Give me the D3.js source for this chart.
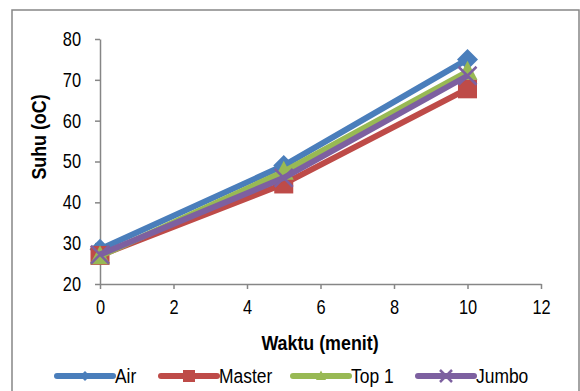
<!DOCTYPE html>
<html><head><meta charset="utf-8">
<script src="https://cdn.jsdelivr.net/npm/d3@7"></script>
<style>
html,body{margin:0;padding:0;background:#fff;}
svg text{font-family:"Liberation Sans",Arial,sans-serif;}
</style></head>
<body><svg id="c" width="580" height="391"></svg>
<script>
const times = [0, 5, 10];
const seriesNames = ["Air", "Master", "Top 1", "Jumbo"];
const airValues = [28.5, 49, 75];
const masterValues = [27, 44.5, 67.8];
const top1Values = [26.8, 47.5, 72];
const jumboValues = [27.2, 46, 71];
const xTicks = [0, 2, 4, 6, 8, 10, 12];
const yTicks = [20, 30, 40, 50, 60, 70, 80];
const xTitle = "Waktu (menit)";
const yTitle = "Suhu (oC)";

const colors = ["#4A7EBB", "#BE4B48", "#98B954", "#7D60A0"];
const shapes = ["diamond", "square", "triangle", "x"];
const allValues = [airValues, masterValues, top1Values, jumboValues];
const SX = 0.82; // horizontal condensing to mimic a narrow font

const svg = d3.select("#c");
svg.append("rect").attr("x", 12).attr("y", 10).attr("width", 567).attr("height", 400)
  .attr("fill", "#fff").attr("stroke", "#868686").attr("stroke-width", 1.5);

const x = d3.scaleLinear().domain([0, 12]).range([100, 541]);
const y = d3.scaleLinear().domain([20, 80]).range([284, 39]);

const axisColor = "#868686";
const gx = svg.append("g").attr("transform", "translate(0,284)")
  .call(d3.axisBottom(x).tickValues(xTicks).tickSize(5).tickPadding(11).tickSizeOuter(0));
const gy = svg.append("g").attr("transform", "translate(100,0)")
  .call(d3.axisLeft(y).tickValues(yTicks).tickSize(5).tickPadding(9).tickSizeOuter(0));
[gx, gy].forEach(g => {
  g.select(".domain").attr("stroke", axisColor).attr("stroke-width", 1.5);
  g.selectAll(".tick line").attr("stroke", axisColor).attr("stroke-width", 1.5);
  g.selectAll(".tick text").attr("fill", "#000").style("font-size", "20px")
    .attr("transform", `scale(${SX},1)`);
});
gy.selectAll(".tick text").attr("x", -19 / SX);

function condensedText(px, py, str, size, weight, anchor, rot) {
  return svg.append("text")
    .attr("transform", `translate(${px},${py})${rot ? " rotate(-90)" : ""} scale(${0.85},1)`)
    .attr("text-anchor", anchor).style("font-size", size + "px").style("font-weight", weight).text(str);
}
condensedText(320, 350, xTitle, 21, "bold", "middle", false);
condensedText(46, 137, yTitle, 21, "bold", "middle", true);

function drawMarker(g, shape, cx, cy, color, s) {
  if (shape === "diamond") {
    g.append("path").attr("d", `M${cx},${cy - s}L${cx + s},${cy}L${cx},${cy + s}L${cx - s},${cy}Z`).attr("fill", color);
  } else if (shape === "square") {
    g.append("rect").attr("x", cx - s).attr("y", cy - s).attr("width", s * 2).attr("height", s * 2).attr("fill", color);
  } else if (shape === "triangle") {
    g.append("path").attr("d", `M${cx},${cy - s * 1.1}L${cx + s},${cy + s * 0.8}L${cx - s},${cy + s * 0.8}Z`).attr("fill", color);
  } else {
    const d = s;
    g.append("path").attr("d", `M${cx - d},${cy - d}L${cx + d},${cy + d}M${cx - d},${cy + d}L${cx + d},${cy - d}`)
      .attr("stroke", color).attr("stroke-width", 2.5);
  }
}

const line = d3.line().x(d => x(d[0])).y(d => y(d[1]));
const markerSize = [10.5, 9.5, 10, 9];
allValues.forEach((vals, i) => {
  const g = svg.append("g");
  const pts = times.map((t, j) => [t, vals[j]]);
  g.append("path").attr("d", line(pts)).attr("fill", "none").attr("stroke", colors[i])
    .attr("stroke-width", 6).attr("stroke-linejoin", "round");
  pts.forEach(p => drawMarker(g, shapes[i], x(p[0]), y(p[1]), colors[i], markerSize[i]));
});

// legend
const legendX = [57, 161, 293, 418];
const legendMarker = [5, 6, 5, 6];
seriesNames.forEach((name, i) => {
  const g = svg.append("g");
  const lx = legendX[i], ly = 376;
  g.append("line").attr("x1", lx).attr("x2", lx + 56).attr("y1", ly).attr("y2", ly)
    .attr("stroke", colors[i]).attr("stroke-width", 6).attr("stroke-linecap", "round");
  drawMarker(g, shapes[i], lx + 28, ly, colors[i], legendMarker[i]);
  g.append("text").attr("transform", `translate(${lx + 58},${ly + 7}) scale(0.83,1)`)
    .style("font-size", "21px").text(name);
});
</script></body></html>
